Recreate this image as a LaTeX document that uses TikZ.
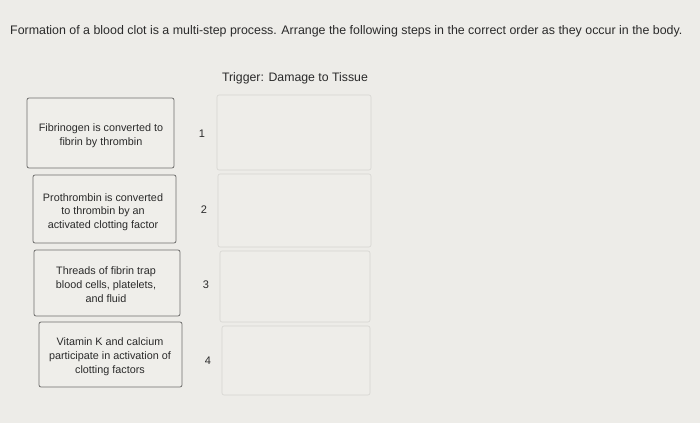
\documentclass[tikz,border=0pt]{standalone}
\usepackage{fontspec}
\setmainfont{Liberation Sans}
\begin{document}
\begin{tikzpicture}[x=1pt,y=-1pt,
  bg/.style={fill=bgc},
  card/.style={draw=cardline, fill=cardfill, rounded corners=2pt, line width=0.8pt},
  slot/.style={draw=slotline, fill=slotfill, rounded corners=2pt, line width=0.6pt},
  cardtext/.style={align=center, font=\fontsize{10.8}{13.7}\selectfont, text=textc, inner sep=0pt},
  num/.style={font=\fontsize{11}{12}\selectfont, text=textc}]
\definecolor{bgc}{HTML}{EDECE8}
\definecolor{cardline}{HTML}{6E6E6C}
\definecolor{cardfill}{HTML}{EFEEEA}
\definecolor{slotline}{HTML}{D6D5D1}
\definecolor{slotfill}{HTML}{EEEDE9}
\definecolor{textc}{HTML}{2A2A2A}
\fill[bg] (0,0) rectangle (700,423);
\useasboundingbox (0,0) rectangle (700,423);
\node[anchor=west, font=\fontsize{12.4}{14}\selectfont, text=textc, inner sep=0pt] (title) at (10,31) {Formation of a blood clot is a multi-step process. Arrange the following steps in the correct order as they occur in the body.};
\node[font=\fontsize{12.3}{14}\selectfont, text=textc] (trigger) at (295,78) {Trigger: Damage to Tissue};
% slots
\draw[slot] (217,95) rectangle (371,170);
\draw[slot] (218,174) rectangle (371,247);
\draw[slot] (220,251) rectangle (370,322);
\draw[slot] (222,326) rectangle (370,395);
% cards
\draw[card] (27,98) rectangle (174,168);
\draw[card] (33,175) rectangle (176,243);
\draw[card] (34,250) rectangle (180,316);
\draw[card] (39,322) rectangle (182,387);
\node[cardtext] (c1) at (101,136) {Fibrinogen is converted to\\fibrin by thrombin};
\node[cardtext] (c2) at (103,212) {Prothrombin is converted\\to thrombin by an\\activated clotting factor};
\node[cardtext] (c3) at (106,284.5) {Threads of fibrin trap\\blood cells, platelets,\\and fluid};
\node[cardtext] (c4) at (110,356.5) {Vitamin K and calcium\\participate in activation of\\clotting factors};
\node[num] (n1) at (202,134) {1};
\node[num] (n2) at (204,210) {2};
\node[num] (n3) at (206,285) {3};
\node[num] (n4) at (208,361) {4};
\end{tikzpicture}
\end{document}
